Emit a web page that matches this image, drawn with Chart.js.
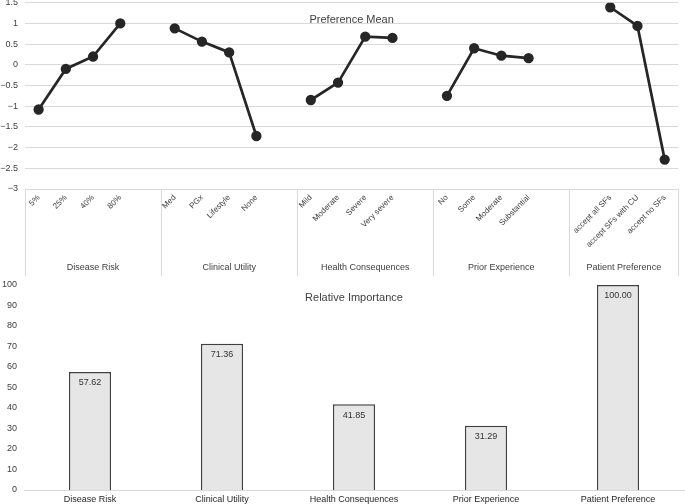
<!DOCTYPE html>
<html>
<head>
<meta charset="utf-8">
<script src="https://cdn.jsdelivr.net/npm/chart.js@4"></script>
<style>
  html, body { margin: 0; padding: 0; background: #fff; }
  #wrap { position: relative; width: 685px; height: 504px; overflow: hidden; }
  #top { position: absolute; left: 0; top: -4px; width: 685px; height: 282px; }
  #bot { position: absolute; left: 0; top: 276px; width: 685px; height: 228px; }
</style>
</head>
<body>
<div id="wrap">
  <div id="top"><canvas id="c1"></canvas></div>
  <div id="bot"><canvas id="c2"></canvas></div>
</div>
<script>
// ---------- Data ----------
const levelLabels = ['5%', '25%', '40%', '80%', '',
  'Med', 'PGx', 'Lifestyle', 'None', '',
  'Mild', 'Moderate', 'Severe', 'Very severe', '',
  'No', 'Some', 'Moderate', 'Substantial', '',
  '', 'accept all SFs', 'accept SFs with CU', 'accept no SFs'];
const prefMean = [-1.08, -0.10, 0.20, 1.00, null,
  0.88, 0.56, 0.30, -1.72, null,
  -0.85, -0.43, 0.68, 0.65, null,
  -0.75, 0.40, 0.22, 0.16, null,
  null, 1.39, 0.94, -2.29];
const prefErr = [0.07, 0.04, 0.04, 0.06, null,
  0.04, 0.04, 0.04, 0.07, null,
  0.06, 0.04, 0.05, 0.04, null,
  0.05, 0.04, 0.04, 0.04, null,
  null, 0.06, 0.04, 0.08];
const groupNames = ['Disease Risk', 'Clinical Utility', 'Health Consequences', 'Prior Experience', 'Patient Preference'];
const groupSpans = [[0, 4], [5, 9], [10, 14], [15, 19], [20, 23]];
const prefTicks = [1.5, 1, 0.5, 0, -0.5, -1, -1.5, -2, -2.5, -3];

const attributes = ['Disease Risk', 'Clinical Utility', 'Health Consequences', 'Prior Experience', 'Patient Preference'];
const importance = [57.62, 71.36, 41.85, 31.29, 100.00];

// ---------- Styling ----------
const FONT = '"Liberation Sans", Arial, Helvetica, sans-serif';
const TXT = '#404040';
const GRID = '#d9d9d9';
Chart.defaults.font.family = FONT;
Chart.defaults.color = TXT;
Chart.defaults.animation = false;

// ---------- Top chart plugins ----------
const errPlugin = {
  id: 'errbars',
  beforeDatasetsDraw(chart) {
    const ctx = chart.ctx, y = chart.scales.y, x = chart.scales.x;
    ctx.save();
    ctx.strokeStyle = '#8a8a8a';
    ctx.lineWidth = 1;
    prefMean.forEach((v, i) => {
      if (v === null || prefErr[i] === null) return;
      const px = x.getPixelForValue(i);
      const y1 = y.getPixelForValue(v + prefErr[i]);
      const y2 = y.getPixelForValue(v - prefErr[i]);
      ctx.beginPath();
      ctx.moveTo(px, y1); ctx.lineTo(px, y2);
      ctx.moveTo(px - 2.5, y1); ctx.lineTo(px + 2.5, y1);
      ctx.moveTo(px - 2.5, y2); ctx.lineTo(px + 2.5, y2);
      ctx.stroke();
    });
    ctx.restore();
  }
};

const groupPlugin = {
  id: 'groups',
  afterDraw(chart) {
    const ctx = chart.ctx, x = chart.scales.x, area = chart.chartArea;
    ctx.save();
    ctx.strokeStyle = GRID;
    ctx.lineWidth = 1;
    const bounds = [];
    groupSpans.forEach(s => { bounds.push(s[0] - 0.5); });
    bounds.push(groupSpans[groupSpans.length - 1][1] + 0.5);
    bounds.forEach(b => {
      const px = Math.round(x.getPixelForValue(b)) + 0.5;
      ctx.beginPath();
      ctx.moveTo(px, area.bottom);
      ctx.lineTo(px, area.bottom + 87);
      ctx.stroke();
    });
    ctx.fillStyle = TXT;
    ctx.font = '9px ' + FONT;
    ctx.textAlign = 'center';
    ctx.textBaseline = 'middle';
    groupSpans.forEach((s, i) => {
      const cx = (x.getPixelForValue(s[0] - 0.5) + x.getPixelForValue(s[1] + 0.5)) / 2;
      ctx.fillText(groupNames[i], cx, area.bottom + 79);
    });
    // title
    ctx.font = '11px ' + FONT;
    ctx.fillText('Preference Mean', (area.left + area.right) / 2, area.top + 17.5);
    ctx.restore();
  }
};

new Chart(document.getElementById('c1'), {
  type: 'line',
  data: {
    labels: levelLabels,
    datasets: [{
      data: prefMean,
      borderColor: '#262626',
      backgroundColor: '#262626',
      borderWidth: 2.7,
      pointRadius: 3.8,
      pointBackgroundColor: '#262626',
      pointBorderColor: '#262626',
      spanGaps: false,
      tension: 0
    }]
  },
  options: {
    responsive: true,
    maintainAspectRatio: false,
    layout: { padding: { top: 2.5, right: 5, left: 0, bottom: 0 } },
    plugins: { legend: { display: false }, tooltip: { enabled: false } },
    scales: {
      x: {
        type: 'category',
        offset: true,
        grid: { display: false, drawTicks: false },
        border: { display: false },
        ticks: {
          autoSkip: false, maxRotation: 45, minRotation: 45,
          font: { size: 8 }, color: TXT, padding: 4
        },
        afterFit(s) { s.height = 89; s.paddingLeft = 0; s.paddingRight = 0; }
      },
      y: {
        min: -3, max: 1.5,
        afterBuildTicks(s) { s.ticks = prefTicks.map(v => ({ value: v })); },
        grid: { color: GRID, drawTicks: false, lineWidth: 1 },
        border: { display: false },
        ticks: {
          font: { size: 9 }, color: TXT, padding: 7,
          callback: v => String(v).replace('-', '\u2212')
        },
        afterFit(s) { s.width = 25; s.paddingTop = 0; s.paddingBottom = 0; }
      }
    }
  },
  plugins: [errPlugin, groupPlugin]
});

// ---------- Bottom chart ----------
const barLabelPlugin = {
  id: 'barLabels',
  afterDatasetsDraw(chart) {
    const ctx = chart.ctx, meta = chart.getDatasetMeta(0), area = chart.chartArea;
    ctx.save();
    ctx.fillStyle = '#333';
    ctx.font = '9px ' + FONT;
    ctx.textAlign = 'center';
    ctx.textBaseline = 'middle';
    meta.data.forEach((bar, i) => {
      ctx.fillText(importance[i].toFixed(2), bar.x, bar.y + 11);
    });
    ctx.font = '11px ' + FONT;
    ctx.fillStyle = TXT;
    ctx.fillText('Relative Importance', (area.left + area.right) / 2, area.top + 13);
    ctx.restore();
  }
};

new Chart(document.getElementById('c2'), {
  type: 'bar',
  data: {
    labels: attributes,
    datasets: [{
      data: importance,
      backgroundColor: '#e6e6e6',
      borderColor: '#404040',
      borderWidth: 1.5,
      barPercentage: 0.32,
      categoryPercentage: 1
    }]
  },
  options: {
    responsive: true,
    maintainAspectRatio: false,
    layout: { padding: { top: 9, right: 1, left: 0, bottom: 0 } },
    plugins: { legend: { display: false }, tooltip: { enabled: false } },
    scales: {
      x: {
        grid: { display: false, drawTicks: false },
        border: { display: true, color: GRID, width: 1 },
        ticks: { font: { size: 9 }, color: '#262626', padding: 4, maxRotation: 0, autoSkip: false },
        afterFit(s) { s.height = 14; s.paddingLeft = 0; s.paddingRight = 0; }
      },
      y: {
        min: 0, max: 100,
        ticks: { stepSize: 10, font: { size: 9 }, color: TXT, padding: 7 },
        grid: { display: false, drawTicks: false },
        border: { display: false },
        afterFit(s) { s.width = 24; s.paddingTop = 0; s.paddingBottom = 0; }
      }
    }
  },
  plugins: [barLabelPlugin]
});
</script>
</body>
</html>
